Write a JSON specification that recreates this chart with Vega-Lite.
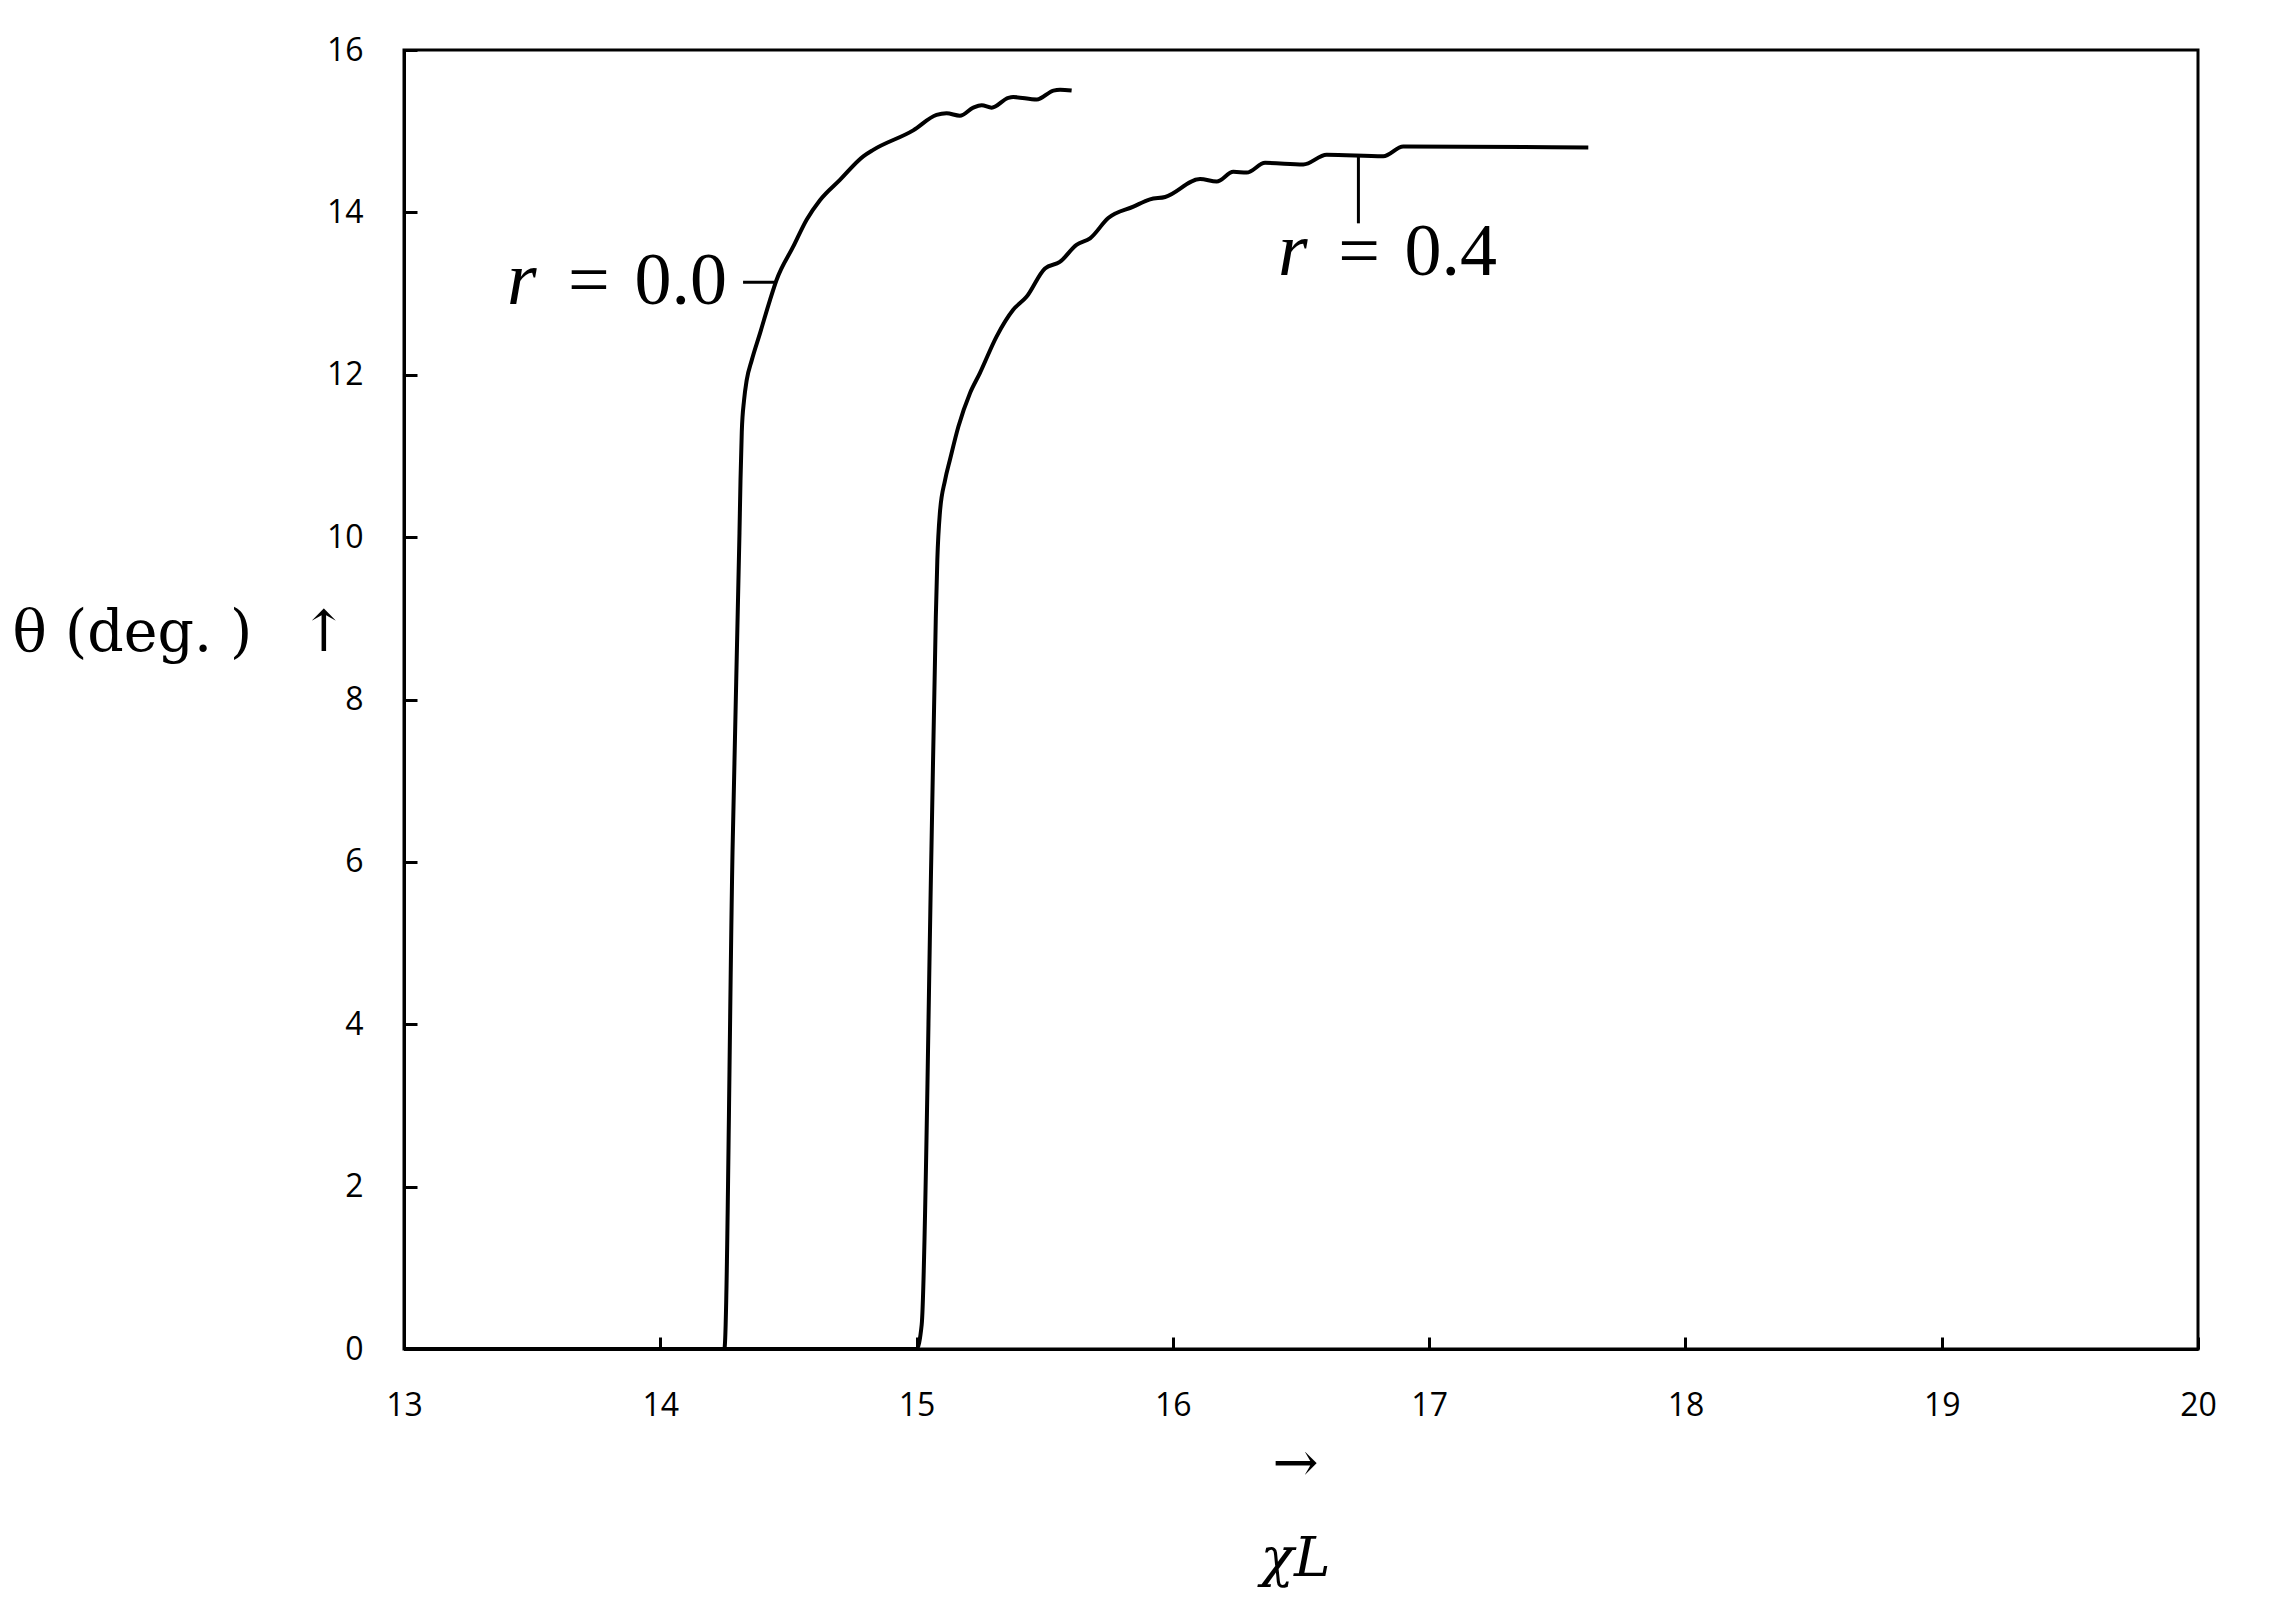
{
  "$schema": "https://vega.github.io/schema/vega-lite/v6.json",
  "width": 1794,
  "height": 1299,
  "autosize": {"type": "none"},
  "padding": {"left": 404, "top": 50, "right": 72, "bottom": 252},
  "background": "white",
  "config": {
    "view": {"stroke": "black", "strokeWidth": 3},
    "axis": {
      "grid": false,
      "domainColor": "black",
      "domainWidth": 3,
      "tickColor": "black",
      "tickWidth": 3,
      "labelColor": "black",
      "labelFont": "Open Sans",
      "labelFontSize": 32,
      "labelFlush": false,
      "titleColor": "black",
      "titleFont": "DejaVu Serif",
      "titleFontWeight": "normal"
    }
  },
  "datasets": {
    "curves": [
      {"r": "0.0", "chiL": 13.0, "theta": 0},
      {"r": "0.0", "chiL": 14.25, "theta": 0},
      {"r": "0.0", "chiL": 14.282, "theta": 6.15},
      {"r": "0.0", "chiL": 14.309, "theta": 10.05},
      {"r": "0.0", "chiL": 14.313, "theta": 10.7},
      {"r": "0.0", "chiL": 14.318, "theta": 11.3},
      {"r": "0.0", "chiL": 14.327, "theta": 11.69},
      {"r": "0.0", "chiL": 14.337, "theta": 11.93},
      {"r": "0.0", "chiL": 14.357, "theta": 12.18},
      {"r": "0.0", "chiL": 14.389, "theta": 12.51},
      {"r": "0.0", "chiL": 14.428, "theta": 12.92},
      {"r": "0.0", "chiL": 14.454, "theta": 13.17},
      {"r": "0.0", "chiL": 14.519, "theta": 13.58},
      {"r": "0.0", "chiL": 14.571, "theta": 13.91},
      {"r": "0.0", "chiL": 14.623, "theta": 14.15},
      {"r": "0.0", "chiL": 14.701, "theta": 14.4},
      {"r": "0.0", "chiL": 14.792, "theta": 14.69},
      {"r": "0.0", "chiL": 14.831, "theta": 14.77},
      {"r": "0.0", "chiL": 14.987, "theta": 15.01},
      {"r": "0.0", "chiL": 15.078, "theta": 15.2},
      {"r": "0.0", "chiL": 15.117, "theta": 15.22},
      {"r": "0.0", "chiL": 15.169, "theta": 15.19},
      {"r": "0.0", "chiL": 15.221, "theta": 15.29},
      {"r": "0.0", "chiL": 15.254, "theta": 15.32},
      {"r": "0.0", "chiL": 15.293, "theta": 15.29},
      {"r": "0.0", "chiL": 15.358, "theta": 15.41},
      {"r": "0.0", "chiL": 15.377, "theta": 15.42},
      {"r": "0.0", "chiL": 15.469, "theta": 15.39},
      {"r": "0.0", "chiL": 15.534, "theta": 15.5},
      {"r": "0.0", "chiL": 15.56, "theta": 15.51},
      {"r": "0.0", "chiL": 15.605, "theta": 15.5},
      {"r": "0.4", "chiL": 13.0, "theta": 0},
      {"r": "0.4", "chiL": 15.0, "theta": 0},
      {"r": "0.4", "chiL": 15.02, "theta": 0.3},
      {"r": "0.4", "chiL": 15.058, "theta": 6.15},
      {"r": "0.4", "chiL": 15.075, "theta": 9.0},
      {"r": "0.4", "chiL": 15.081, "theta": 9.72},
      {"r": "0.4", "chiL": 15.091, "theta": 10.3},
      {"r": "0.4", "chiL": 15.111, "theta": 10.7},
      {"r": "0.4", "chiL": 15.13, "theta": 10.95},
      {"r": "0.4", "chiL": 15.163, "theta": 11.36},
      {"r": "0.4", "chiL": 15.208, "theta": 11.77},
      {"r": "0.4", "chiL": 15.247, "theta": 12.02},
      {"r": "0.4", "chiL": 15.312, "theta": 12.47},
      {"r": "0.4", "chiL": 15.377, "theta": 12.8},
      {"r": "0.4", "chiL": 15.429, "theta": 12.96},
      {"r": "0.4", "chiL": 15.501, "theta": 13.31},
      {"r": "0.4", "chiL": 15.559, "theta": 13.39},
      {"r": "0.4", "chiL": 15.624, "theta": 13.6},
      {"r": "0.4", "chiL": 15.677, "theta": 13.68},
      {"r": "0.4", "chiL": 15.748, "theta": 13.93},
      {"r": "0.4", "chiL": 15.846, "theta": 14.07},
      {"r": "0.4", "chiL": 15.911, "theta": 14.16},
      {"r": "0.4", "chiL": 15.97, "theta": 14.19},
      {"r": "0.4", "chiL": 16.106, "theta": 14.41},
      {"r": "0.4", "chiL": 16.171, "theta": 14.38},
      {"r": "0.4", "chiL": 16.236, "theta": 14.5},
      {"r": "0.4", "chiL": 16.288, "theta": 14.49},
      {"r": "0.4", "chiL": 16.36, "theta": 14.61},
      {"r": "0.4", "chiL": 16.509, "theta": 14.59},
      {"r": "0.4", "chiL": 16.6, "theta": 14.71},
      {"r": "0.4", "chiL": 16.821, "theta": 14.69},
      {"r": "0.4", "chiL": 16.899, "theta": 14.81},
      {"r": "0.4", "chiL": 17.621, "theta": 14.8}
    ],
    "leaders": [
      {"x1": 14.323, "x2": 14.455, "y1": 13.14, "y2": 13.14},
      {"x1": 16.724, "x2": 16.724, "y1": 13.865, "y2": 14.69}
    ],
    "italicLabels": [
      {"lx": 13.402, "ly": 12.87, "t": "r"},
      {"lx": 16.41, "ly": 13.23, "t": "r"}
    ],
    "uprightLabels": [
      {"lx": 13.64, "ly": 12.87, "t": "= \u200a0.0"},
      {"lx": 16.645, "ly": 13.23, "t": "= \u200a0.4"}
    ]
  },
  "layer": [
    {
      "data": {"name": "curves"},
      "mark": {"type": "line", "color": "black", "strokeWidth": 4, "interpolate": "monotone"},
      "encoding": {
        "x": {
          "field": "chiL", "type": "quantitative",
          "scale": {"domain": [13, 20], "nice": false, "zero": false},
          "axis": {
            "values": [13, 14, 15, 16, 17, 18, 19, 20],
            "format": "d",
            "tickSize": -12,
            "labelPadding": 68,
            "labelBaseline": "middle",
            "title": ["→", "χL"],
            "titleFontSize": 55,
            "titleFontStyle": "italic",
            "titleLineHeight": 95,
            "titleBaseline": "alphabetic",
            "titleAlign": "center",
            "titleX": 891,
            "titleY": 131
          }
        },
        "y": {
          "field": "theta", "type": "quantitative",
          "scale": {"domain": [0, 16], "nice": false},
          "axis": {
            "values": [0, 2, 4, 6, 8, 10, 12, 14, 16],
            "format": "d",
            "tickSize": -13,
            "labelPadding": 54,
            "title": "θ (deg. )\u00a0\u2009 ↑",
            "titleFontSize": 57,
            "titleAngle": 0,
            "titleAlign": "left",
            "titleBaseline": "middle",
            "titleX": -392,
            "titleY": 583
          }
        },
        "detail": {"field": "r", "type": "nominal"}
      }
    },
    {
      "data": {"name": "leaders"},
      "mark": {"type": "rule", "color": "black", "strokeWidth": 3},
      "encoding": {
        "x": {"field": "x1", "type": "quantitative"},
        "x2": {"field": "x2"},
        "y": {"field": "y1", "type": "quantitative"},
        "y2": {"field": "y2"}
      }
    },
    {
      "data": {"name": "italicLabels"},
      "mark": {"type": "text", "font": "Liberation Serif", "fontStyle": "italic", "fontSize": 76, "align": "left", "baseline": "alphabetic", "color": "black"},
      "encoding": {
        "x": {"field": "lx", "type": "quantitative"},
        "y": {"field": "ly", "type": "quantitative"},
        "text": {"field": "t"}
      }
    },
    {
      "data": {"name": "uprightLabels"},
      "mark": {"type": "text", "font": "Liberation Serif", "fontSize": 74, "align": "left", "baseline": "alphabetic", "color": "black"},
      "encoding": {
        "x": {"field": "lx", "type": "quantitative"},
        "y": {"field": "ly", "type": "quantitative"},
        "text": {"field": "t"}
      }
    }
  ]
}
